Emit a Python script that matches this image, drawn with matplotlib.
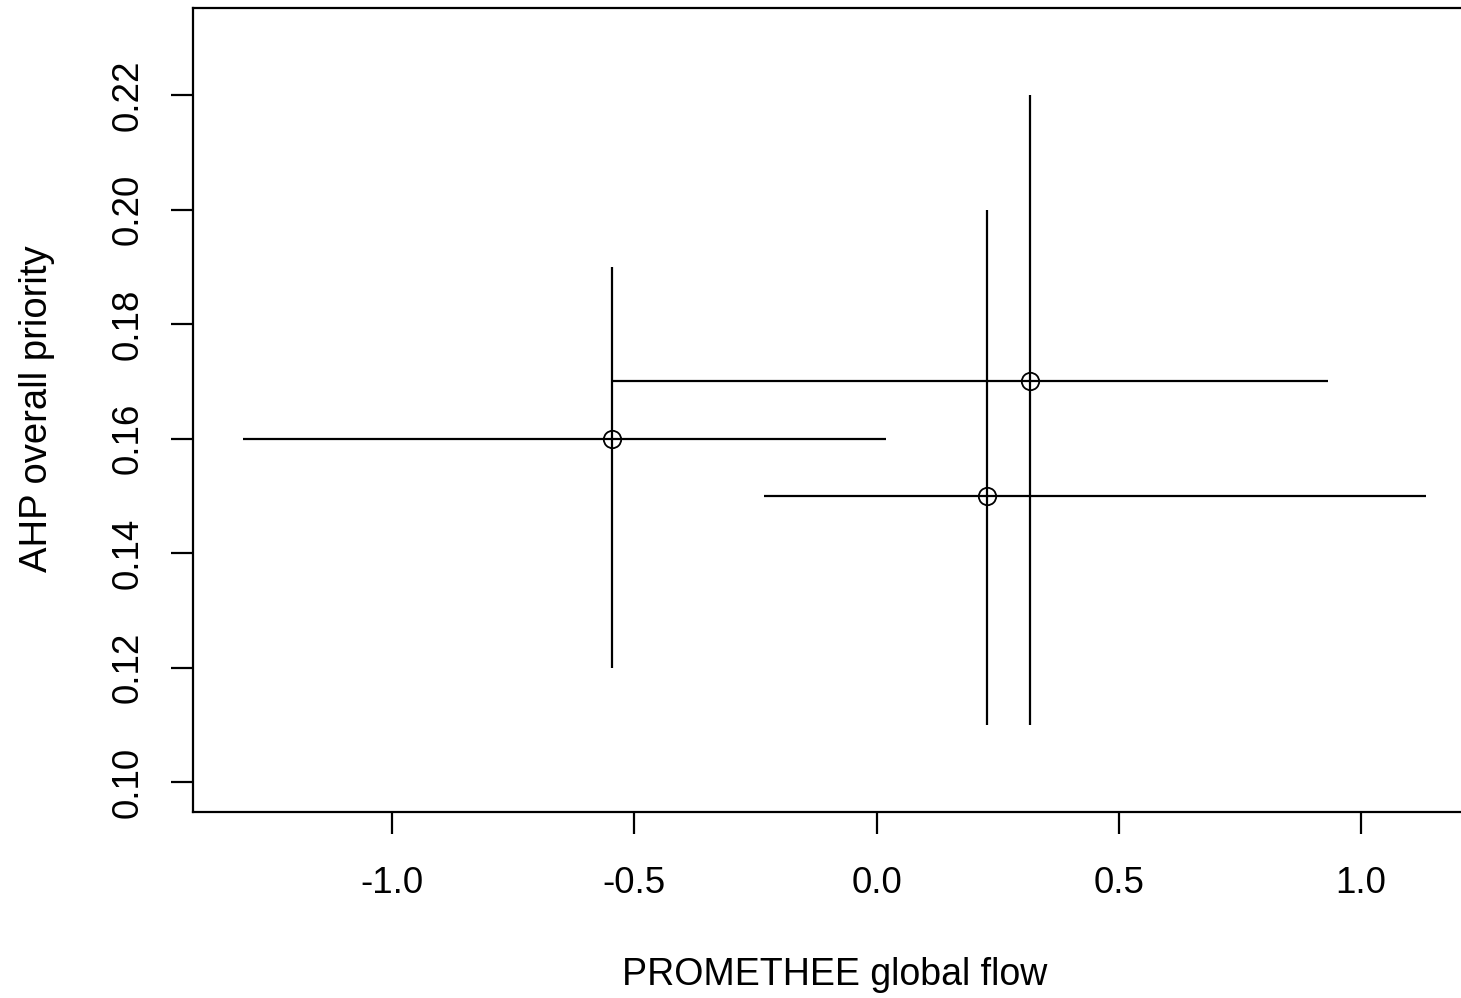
import numpy as np
import matplotlib
matplotlib.use("Agg")
import matplotlib.pyplot as plt

plt.rcParams["font.family"] = ["Liberation Sans", "DejaVu Sans"]

# Flujo global PROMETHEE vs prioridad AHP, con rangos mínimo-máximo
flujo = [-0.546, 0.317, 0.227]
flujo_min = [-1.308, -0.546, -0.232]
flujo_max = [0.019, 0.932, 1.134]

prioridad = [0.16, 0.17, 0.15]
prioridad_min = [0.12, 0.11, 0.11]
prioridad_max = [0.19, 0.22, 0.20]

x_ticks = [-1.0, -0.5, 0.0, 0.5, 1.0]
y_ticks = [0.10, 0.12, 0.14, 0.16, 0.18, 0.20, 0.22]

W, H = 1461, 998
fig = plt.figure(figsize=(W / 100, H / 100), dpi=100)

# Límites de los ejes (estilo R, con margen del 4%)
xlim = (-1.411, 1.231)
ylim = (0.10 - 0.04 * 0.13, 0.23 + 0.04 * 0.13)

izq, der, arr, aba = 193, 1473, 8, 812
ax = fig.add_axes([izq / W, 1 - aba / H, (der - izq) / W, (aba - arr) / H])

x = np.array(flujo)
y = np.array(prioridad)
xerr = [x - np.array(flujo_min), np.array(flujo_max) - x]
yerr = [y - np.array(prioridad_min), np.array(prioridad_max) - y]

ax.errorbar(x, y, xerr=xerr, yerr=yerr, fmt="none", ecolor="black",
            elinewidth=1.6, capsize=0)
ax.plot(x, y, "o", mfc="none", mec="black", mew=1.3, ms=12.5)

ax.set_xlim(*xlim)
ax.set_ylim(*ylim)
ax.set_xticks(x_ticks)
ax.set_xticklabels([f"{v:.1f}" for v in x_ticks])
ax.set_yticks(y_ticks)
ax.set_yticklabels([f"{v:.2f}" for v in y_ticks], rotation=90, va="center")

for s in ax.spines.values():
    s.set_linewidth(1.6)
ax.tick_params(axis="both", length=16, width=1.6, labelsize=26.5, color="black")
ax.tick_params(axis="x", pad=23)
ax.tick_params(axis="y", pad=18)

fig.text(835 / W, 1 - 975 / H, "PROMETHEE global flow", fontsize=27,
         ha="center", va="center")
fig.text(37 / W, 1 - 409 / H, "AHP overall priority", fontsize=27.5,
         ha="center", va="center", rotation=90)

fig.savefig("out.png", dpi=100)
